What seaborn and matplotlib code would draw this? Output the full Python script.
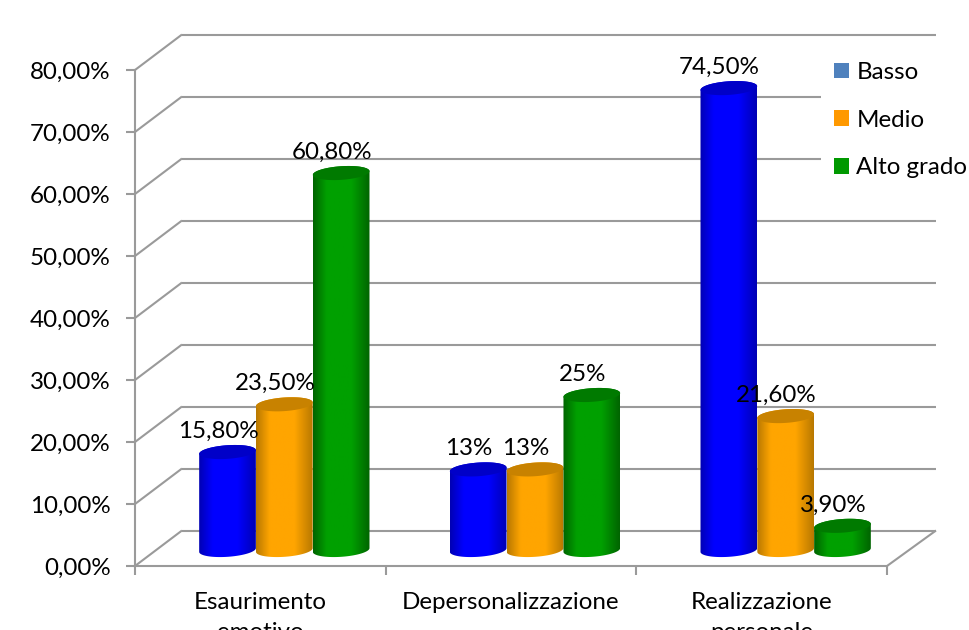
import numpy as np
import pandas as pd
import matplotlib
matplotlib.use("Agg")
import matplotlib.pyplot as plt
import seaborn as sns
from matplotlib.colors import LinearSegmentedColormap
from matplotlib.patches import Patch, PathPatch, Polygon
from matplotlib.path import Path
from matplotlib.transforms import Affine2D, IdentityTransform

categories = ["Esaurimento\nemotivo", "Depersonalizzazione", "Realizzazione\npersonale"]
levels = ["Basso", "Medio", "Alto grado"]
basso = [15.8, 13, 74.5]
medio = [23.5, 13, 21.6]
alto = [60.8, 25, 3.9]
basso_labels = ["15,80%", "13%", "74,50%"]
medio_labels = ["23,50%", "13%", "21,60%"]
alto_labels = ["60,80%", "25%", "3,90%"]
y_ticks = [0, 10, 20, 30, 40, 50, 60, 70, 80]

legend_colors = ["#4F81BD", "#FF9900", "#009900"]
body_colors = {
    "Basso": ("#0000B4", "#0000FF", "#0000C8"),
    "Medio": ("#B87800", "#FFA500", "#C88200"),
    "Alto grado": ("#006400", "#00A000", "#007A00"),
}

W, H = 969, 630
GRID = "#9A9A9A"
FONT = 17.4
sns.set_theme(style="white")
plt.rcParams["font.family"] = ["Lato", "DejaVu Sans"]
plt.rcParams["font.size"] = FONT

fig = plt.figure(figsize=(W / 100, H / 100), dpi=100, facecolor="white")
ax = fig.add_axes([135 / W, (H - 566) / H, 752 / W, 496 / H])

df = pd.DataFrame({
    "categoria": categories * 3,
    "livello": np.repeat(levels, 3),
    "valore": basso + medio + alto,
})
sns.barplot(data=df, x="categoria", y="valore", hue="livello", order=categories,
            hue_order=levels, width=0.68, gap=0, dodge=True, saturation=1,
            legend=False, ax=ax)
ax.set_xlim(-0.5, 2.5)
ax.set_ylim(0, 80)
ax.set_autoscale_on(False)
ax.set_xlabel("")
ax.set_ylabel("")
fig.canvas.draw()

# Box walls and floor, drawn in pixels from the front plane's tick positions
DX_L, DX_R, DY = 47, 49, 35.5
line_kw = dict(color=GRID, lw=1.5, clip_on=False, zorder=1, solid_capstyle="butt",
               transform=IdentityTransform())
for t in y_ticks:
    (xa, ya), (xb, _) = ax.transData.transform([(-0.5, t), (2.5, t)])
    ax.plot([xa + DX_L, xb + DX_R], [ya + DY, ya + DY], **line_kw)
    ax.plot([xa, xa + DX_L], [ya, ya + DY], **line_kw)
xb, yb0 = ax.transData.transform((2.5, 0))
ax.plot([xb, xb + DX_R], [yb0, yb0 + DY], **line_kw)

for side in ("top", "right"):
    ax.spines[side].set_visible(False)
for side in ("left", "bottom"):
    ax.spines[side].set_color(GRID)
    ax.spines[side].set_linewidth(1.5)

ax.set_yticks(y_ticks)
ax.set_yticklabels([f"{t},00%" for t in y_ticks], fontsize=FONT, color="black")
ax.set_xticks(range(3))
ax.set_xticklabels(categories, fontsize=FONT, color="black", linespacing=1.55)
ax.set_xticks([-0.5, 0.5, 1.5, 2.5], minor=True)
ax.tick_params(axis="y", left=True, length=6.5, width=1.5, color=GRID, pad=11)
ax.tick_params(axis="x", which="major", bottom=False, length=0, pad=18.5)
ax.tick_params(axis="x", which="minor", bottom=True, length=6.5, width=1.5, color=GRID)


def ellipse_points(cx, cy, a, b, angle, t):
    c, s = np.cos(angle), np.sin(angle)
    ex, ey = a * np.cos(t), b * np.sin(t)
    return np.column_stack([cx + ex * c - ey * s, cy + ex * s + ey * c])


# Turn each seaborn bar into a shaded cylinder standing on the floor
base = ax.transData + Affine2D().translate(24, 16)
tilt = np.radians(4)
ry = 6.8
all_labels = [basso_labels, medio_labels, alto_labels]
for i, (level, container) in enumerate(zip(levels, ax.containers)):
    edge, mid, top = body_colors[level]
    cmap = LinearSegmentedColormap.from_list(
        level, [(0, edge), (0.24, mid), (0.68, mid), (1, edge)])
    gradient = np.linspace(0, 1, 128).reshape(1, -1)
    for j, bar in enumerate(container):
        bar.set_visible(False)
        (xl, yb), (xr, yt) = base.transform(
            [(bar.get_x(), 0), (bar.get_x() + bar.get_width(), bar.get_height())])
        cx, rx = (xl + xr) / 2, (xr - xl) / 2
        lower = ellipse_points(cx, yb, rx, ry, tilt, np.linspace(np.pi, 2 * np.pi, 50))
        upper = ellipse_points(cx, yt, rx, ry, tilt, np.linspace(0, np.pi, 50))
        z = 3 + i * 0.1 + j * 0.01
        outline = Path(np.vstack([lower, upper, lower[:1]]), closed=True)
        clip = PathPatch(outline, transform=IdentityTransform())
        img = ax.imshow(gradient, cmap=cmap, aspect="auto", interpolation="bilinear",
                        extent=(xl, xr, yb - ry - 5, yt + ry + 5),
                        transform=IdentityTransform(), zorder=z, clip_on=True)
        img.set_clip_path(clip)
        cap = ellipse_points(cx, yt, rx, ry, tilt, np.linspace(0, 2 * np.pi, 80))
        ax.add_patch(Polygon(cap, closed=True, facecolor=top, edgecolor="none",
                             transform=IdentityTransform(), zorder=z + 0.001,
                             clip_on=False))
        ax.text(cx - 9.5, yt + 20.5, all_labels[i][j], transform=IdentityTransform(),
                ha="center", va="center", fontsize=FONT, color="black", zorder=6,
                clip_on=False)
ax.set_xlim(-0.5, 2.5)
ax.set_ylim(0, 80)

handles = [Patch(facecolor=c, edgecolor="none", label=l)
           for c, l in zip(legend_colors, levels)]
leg = ax.legend(handles=handles, loc="upper left", bbox_to_anchor=(821, H - 49),
                bbox_transform=IdentityTransform(), borderaxespad=0, borderpad=0.54,
                frameon=True, facecolor="white", edgecolor="none", framealpha=1,
                fancybox=False, handlelength=0.62, handleheight=0.62,
                handletextpad=0.3, labelspacing=1.1, fontsize=FONT, labelcolor="black")
leg.set_zorder(5)

fig.savefig("out.png", dpi=100)
